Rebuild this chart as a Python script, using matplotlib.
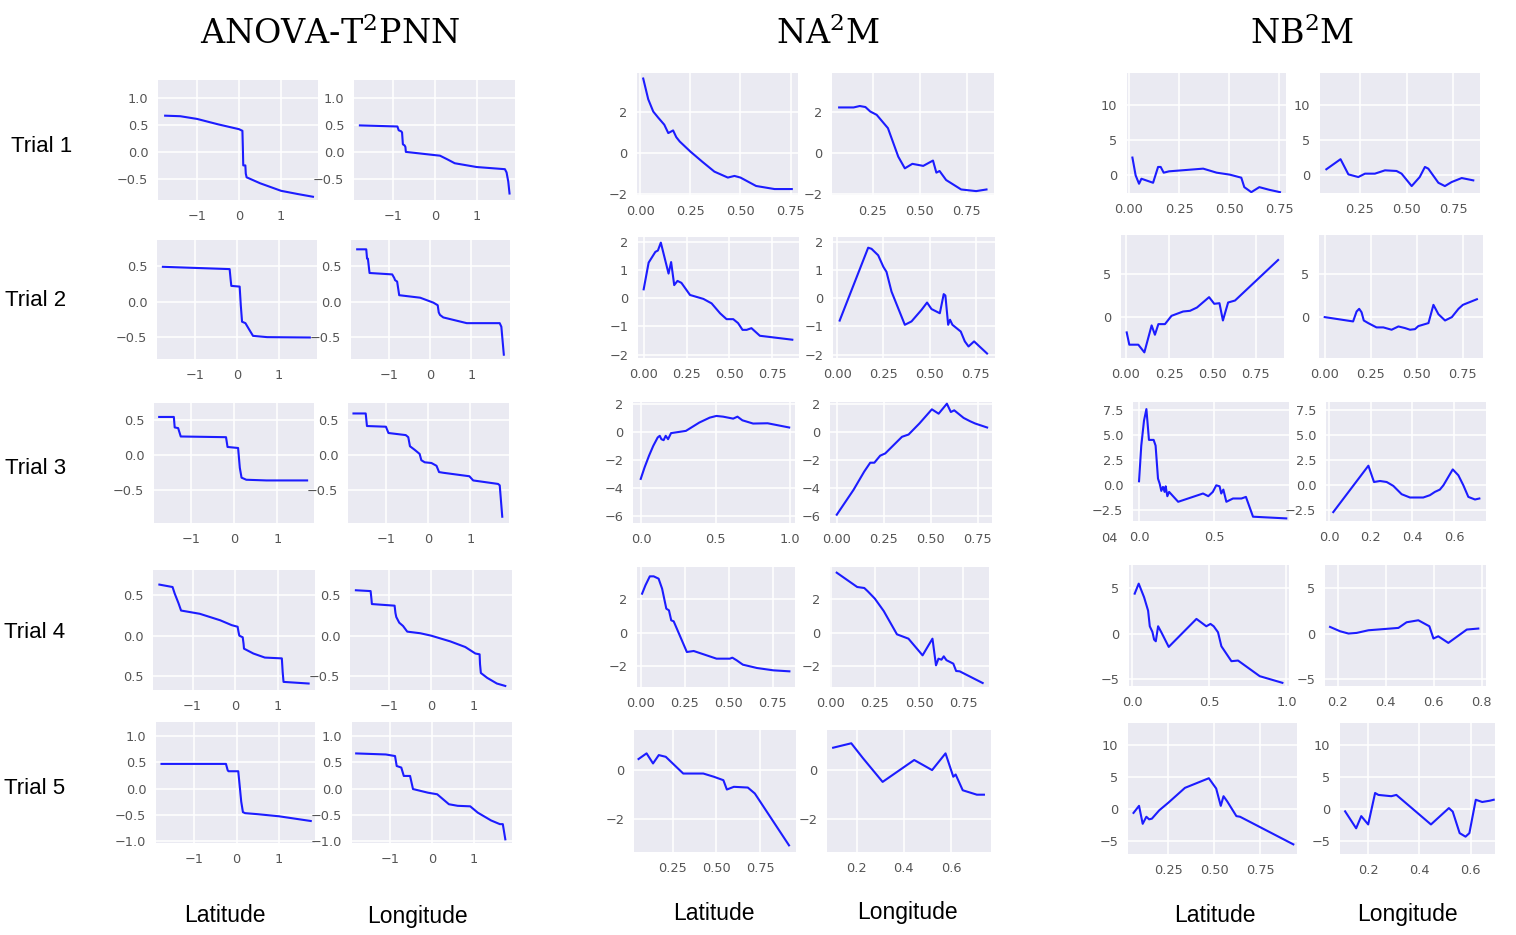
import matplotlib
matplotlib.use("Agg")
import matplotlib.pyplot as plt
from matplotlib.ticker import MultipleLocator, FixedLocator

plt.rcParams['mathtext.fontset'] = 'dejavuserif'

# ---- data ----
models = [r'ANOVA-T$^2$PNN', r'NA$^2$M', r'NB$^2$M']
features = ['Latitude', 'Longitude']
trials = ['Trial 1', 'Trial 2', 'Trial 3', 'Trial 4', 'Trial 5']

# trial 1
t1_a_lat_x = [-1.76, -1.4, -1.0, -0.5, 0.0, 0.08, 0.09, 0.10, 0.15, 0.16, 0.18, 0.5, 1.0, 1.4, 1.76]
t1_a_lat_y = [0.67, 0.66, 0.61, 0.51, 0.42, 0.39, 0.1, -0.25, -0.25, -0.4, -0.47, -0.58, -0.72, -0.78, -0.83]
t1_a_lon_x = [-1.78, -0.89, -0.86, -0.80, -0.78, -0.76, -0.72, -0.70, -0.69, 0.0, 0.12, 0.3, 0.47, 0.99, 1.66, 1.70, 1.74, 1.77]
t1_a_lon_y = [0.49, 0.47, 0.40, 0.38, 0.36, 0.14, 0.12, 0.09, 0.0, -0.06, -0.07, -0.14, -0.21, -0.28, -0.32, -0.38, -0.55, -0.77]
t1_n_lat_x = [0.015, 0.04, 0.065, 0.09, 0.12, 0.14, 0.155, 0.164, 0.18, 0.197, 0.25, 0.31, 0.37, 0.437, 0.47, 0.50, 0.578, 0.67, 0.756]
t1_n_lat_y = [3.61, 2.6, 2.0, 1.7, 1.36, 0.95, 1.03, 1.08, 0.75, 0.54, 0.05, -0.45, -0.93, -1.22, -1.14, -1.22, -1.63, -1.78, -1.78]
t1_n_lon_x = [0.07, 0.147, 0.18, 0.21, 0.236, 0.27, 0.33, 0.385, 0.42, 0.46, 0.518, 0.57, 0.588, 0.605, 0.64, 0.72, 0.80, 0.855]
t1_n_lon_y = [2.2, 2.2, 2.27, 2.22, 2.0, 1.84, 1.19, -0.2, -0.77, -0.55, -0.65, -0.39, -0.98, -0.9, -1.34, -1.8, -1.88, -1.8]
t1_b_lat_x = [0.017, 0.033, 0.05, 0.062, 0.12, 0.145, 0.158, 0.173, 0.2, 0.37, 0.437, 0.503, 0.56, 0.575, 0.61, 0.65, 0.70, 0.753]
t1_b_lat_y = [2.52, 0.0, -1.19, -0.48, -1.05, 1.19, 1.19, 0.38, 0.57, 0.95, 0.38, 0.1, -0.33, -1.67, -2.38, -1.67, -2.05, -2.38]
t1_b_lon_x = [0.07, 0.146, 0.188, 0.241, 0.277, 0.33, 0.384, 0.446, 0.473, 0.527, 0.57, 0.598, 0.616, 0.67, 0.705, 0.741, 0.795, 0.857]
t1_b_lon_y = [0.86, 2.29, 0.14, -0.24, 0.24, 0.24, 0.71, 0.62, 0.24, -1.52, -0.24, 1.19, 0.95, -1.05, -1.52, -0.95, -0.38, -0.71]

# trial 2
t2_a_lat_x = [-1.76, -0.175, -0.15, -0.135, 0.063, 0.09, 0.12, 0.2, 0.28, 0.38, 0.714, 1.73]
t2_a_lat_y = [0.486, 0.454, 0.3, 0.22, 0.21, -0.05, -0.28, -0.30, -0.38, -0.477, -0.495, -0.5]
t2_a_lon_x = [-1.77, -1.55, -1.53, -1.51, -1.49, -1.47, -0.92, -0.87, -0.85, -0.80, -0.75, -0.24, 0.08, 0.185, 0.21, 0.24, 0.32, 0.89, 1.69, 1.73, 1.79]
t2_a_lon_y = [0.73, 0.73, 0.6, 0.6, 0.5, 0.40, 0.38, 0.33, 0.30, 0.28, 0.09, 0.055, -0.014, -0.05, -0.15, -0.185, -0.22, -0.30, -0.30, -0.35, -0.74]
t2_n_lat_x = [0.0, 0.029, 0.068, 0.083, 0.10, 0.145, 0.16, 0.178, 0.197, 0.22, 0.27, 0.348, 0.396, 0.445, 0.483, 0.522, 0.55, 0.576, 0.60, 0.628, 0.677, 0.866]
t2_n_lat_y = [0.32, 1.27, 1.65, 1.7, 1.98, 0.88, 1.29, 0.47, 0.62, 0.55, 0.12, -0.02, -0.18, -0.53, -0.74, -0.74, -0.88, -1.12, -1.12, -1.06, -1.33, -1.47]
t2_n_lon_x = [0.014, 0.168, 0.186, 0.222, 0.25, 0.267, 0.294, 0.366, 0.402, 0.456, 0.486, 0.51, 0.555, 0.576, 0.585, 0.60, 0.61, 0.623, 0.668, 0.69, 0.71, 0.74, 0.81]
t2_n_lon_y = [-0.79, 1.8, 1.76, 1.53, 1.12, 0.94, 0.24, -0.94, -0.82, -0.41, -0.15, -0.38, -0.53, 0.15, 0.1, -0.94, -0.76, -0.94, -1.18, -1.53, -1.71, -1.53, -1.96]
t2_b_lat_x = [0.004, 0.019, 0.071, 0.106, 0.148, 0.167, 0.187, 0.225, 0.263, 0.33, 0.37, 0.41, 0.48, 0.51, 0.54, 0.56, 0.59, 0.63, 0.879]
t2_b_lat_y = [-1.73, -3.15, -3.15, -4.04, -0.92, -2.0, -0.77, -0.77, 0.19, 0.69, 0.77, 1.15, 2.35, 1.58, 1.65, -0.35, 1.73, 1.96, 6.65]
t2_b_lon_x = [0.0, 0.154, 0.173, 0.187, 0.20, 0.212, 0.236, 0.281, 0.318, 0.363, 0.40, 0.436, 0.463, 0.49, 0.508, 0.563, 0.59, 0.617, 0.653, 0.69, 0.726, 0.75, 0.826]
t2_b_lon_y = [0.04, -0.46, 0.69, 1.0, 0.6, -0.35, -0.65, -1.15, -1.15, -1.42, -1.04, -1.23, -1.42, -1.35, -1.0, -0.65, 1.46, 0.38, -0.35, 0.04, 1.0, 1.46, 2.11]

# trial 3
t3_a_lat_x = [-1.74, -1.40, -1.38, -1.30, -1.24, -0.19, -0.155, 0.09, 0.13, 0.17, 0.28, 0.75, 1.69]
t3_a_lat_y = [0.55, 0.55, 0.40, 0.39, 0.27, 0.26, 0.12, 0.105, -0.18, -0.32, -0.35, -0.36, -0.36]
t3_a_lon_x = [-1.77, -1.48, -1.45, -1.0, -0.94, -0.53, -0.47, -0.43, -0.32, -0.2, -0.16, -0.08, 0.08, 0.2, 0.26, 0.36, 0.98, 1.07, 1.66, 1.70, 1.76]
t3_a_lon_y = [0.60, 0.60, 0.42, 0.41, 0.32, 0.29, 0.26, 0.13, 0.08, 0.02, -0.07, -0.10, -0.11, -0.15, -0.24, -0.25, -0.30, -0.36, -0.41, -0.43, -0.88]
t3_n_lat_x = [-0.004, 0.022, 0.052, 0.08, 0.11, 0.124, 0.135, 0.15, 0.164, 0.18, 0.2, 0.30, 0.39, 0.46, 0.505, 0.55, 0.618, 0.647, 0.68, 0.752, 0.85, 0.995]
t3_n_lat_y = [-3.34, -2.52, -1.69, -1.0, -0.40, -0.28, -0.52, -0.59, -0.28, -0.52, -0.09, 0.07, 0.66, 1.01, 1.13, 1.08, 0.94, 1.08, 0.82, 0.59, 0.61, 0.31]
t3_n_lon_x = [0.0, 0.089, 0.146, 0.178, 0.2, 0.231, 0.258, 0.347, 0.382, 0.44, 0.506, 0.542, 0.586, 0.607, 0.625, 0.675, 0.71, 0.737, 0.80]
t3_n_lon_y = [-5.88, -4.12, -2.82, -2.19, -2.19, -1.69, -1.53, -0.35, -0.19, 0.6, 1.6, 1.29, 2.0, 1.41, 1.53, 0.99, 0.75, 0.59, 0.31]
t3_b_lat_x = [0.0, 0.015, 0.033, 0.049, 0.06, 0.066, 0.097, 0.11, 0.126, 0.137, 0.148, 0.159, 0.17, 0.177, 0.188, 0.2, 0.26, 0.425, 0.46, 0.49, 0.513, 0.535, 0.546, 0.56, 0.58, 0.624, 0.68, 0.71, 0.757, 0.978]
t3_b_lat_y = [0.33, 3.9, 6.39, 7.55, 5.56, 4.47, 4.47, 3.9, 0.6, 0.1, -0.63, -0.23, -0.73, -0.17, -1.16, -0.73, -1.72, -0.89, -1.16, -0.73, -0.07, -0.17, -0.89, -0.5, -1.72, -1.39, -1.39, -1.23, -3.21, -3.38]
t3_b_lon_x = [0.019, 0.188, 0.215, 0.244, 0.276, 0.308, 0.348, 0.388, 0.452, 0.484, 0.508, 0.532, 0.549, 0.594, 0.621, 0.645, 0.669, 0.701, 0.722]
t3_b_lon_y = [-2.75, 1.89, 0.26, 0.36, 0.26, -0.13, -0.96, -1.29, -1.29, -1.06, -0.73, -0.5, -0.07, 1.52, 0.93, -0.07, -1.23, -1.49, -1.39]

# trial 4
t4_a_lat_x = [-1.78, -1.47, -1.42, -1.33, -1.27, -0.83, -0.35, -0.08, 0.06, 0.08, 0.10, 0.18, 0.2, 0.21, 0.43, 0.7, 1.1, 1.12, 1.14, 1.73]
t4_a_lat_y = [0.63, 0.60, 0.52, 0.40, 0.31, 0.27, 0.19, 0.13, 0.11, 0.05, 0.0, -0.02, -0.1, -0.16, -0.22, -0.27, -0.28, -0.45, -0.57, -0.59]
t4_a_lon_x = [-1.79, -1.44, -1.42, -1.41, -0.87, -0.85, -0.83, -0.76, -0.67, -0.57, -0.26, 0.0, 0.45, 0.81, 1.05, 1.15, 1.16, 1.18, 1.33, 1.56, 1.76]
t4_a_lon_y = [0.56, 0.55, 0.45, 0.39, 0.37, 0.28, 0.23, 0.16, 0.12, 0.05, 0.03, 0.0, -0.07, -0.14, -0.22, -0.23, -0.35, -0.46, -0.52, -0.59, -0.62]
t4_n_lat_x = [0.006, 0.025, 0.05, 0.072, 0.1, 0.12, 0.144, 0.159, 0.172, 0.186, 0.261, 0.3, 0.43, 0.506, 0.52, 0.545, 0.58, 0.66, 0.754, 0.845]
t4_n_lat_y = [2.34, 2.84, 3.38, 3.38, 3.24, 2.64, 1.44, 1.34, 0.74, 0.68, -1.16, -1.1, -1.56, -1.56, -1.5, -1.66, -1.92, -2.12, -2.26, -2.32]
t4_n_lon_x = [0.034, 0.15, 0.19, 0.21, 0.25, 0.30, 0.375, 0.44, 0.52, 0.576, 0.596, 0.61, 0.627, 0.64, 0.655, 0.694, 0.71, 0.73, 0.86]
t4_n_lon_y = [3.6, 2.74, 2.68, 2.48, 2.04, 1.3, -0.1, -0.36, -1.36, -0.36, -1.96, -1.56, -1.62, -1.42, -1.65, -1.86, -2.3, -2.32, -3.02]
t4_b_lat_x = [0.015, 0.041, 0.076, 0.102, 0.113, 0.13, 0.141, 0.152, 0.167, 0.188, 0.236, 0.416, 0.48, 0.507, 0.528, 0.556, 0.578, 0.643, 0.686, 0.827, 0.974]
t4_b_lat_y = [4.43, 5.53, 4.03, 2.56, 0.84, 0.22, -0.62, -0.81, 0.84, 0.18, -1.43, 1.65, 0.84, 1.1, 0.84, 0.18, -1.36, -3.0, -2.93, -4.65, -5.38]
t4_b_lon_x = [0.168, 0.21, 0.245, 0.279, 0.328, 0.453, 0.487, 0.536, 0.582, 0.599, 0.619, 0.661, 0.738, 0.786]
t4_b_lon_y = [0.77, 0.29, 0.04, 0.11, 0.4, 0.66, 1.28, 1.5, 0.84, -0.51, -0.26, -0.99, 0.48, 0.59]

# trial 5
t5_a_lat_x = [-1.77, -0.25, -0.21, -0.19, 0.04, 0.08, 0.11, 0.15, 0.2, 0.5, 1.0, 1.75]
t5_a_lat_y = [0.47, 0.47, 0.35, 0.33, 0.33, 0.0, -0.25, -0.45, -0.47, -0.49, -0.53, -0.62]
t5_a_lon_x = [-1.81, -1.1, -0.88, -0.84, -0.73, -0.67, -0.52, -0.45, -0.09, 0.13, 0.41, 0.62, 0.92, 1.1, 1.42, 1.63, 1.7, 1.76]
t5_a_lon_y = [0.67, 0.65, 0.62, 0.43, 0.40, 0.24, 0.24, -0.01, -0.08, -0.11, -0.30, -0.33, -0.34, -0.46, -0.61, -0.68, -0.68, -0.97]
t5_n_lat_x = [0.054, 0.10, 0.137, 0.17, 0.21, 0.31, 0.425, 0.485, 0.54, 0.56, 0.60, 0.68, 0.72, 0.916]
t5_n_lat_y = [0.45, 0.68, 0.27, 0.61, 0.54, -0.14, -0.14, -0.27, -0.41, -0.79, -0.68, -0.71, -0.95, -3.06]
t5_n_lon_x = [0.10, 0.177, 0.227, 0.31, 0.444, 0.52, 0.577, 0.61, 0.62, 0.65, 0.71, 0.74]
t5_n_lon_y = [0.91, 1.09, 0.48, -0.48, 0.41, 0.0, 0.68, -0.27, -0.18, -0.82, -1.0, -1.0]
t5_b_lat_x = [0.06, 0.09, 0.11, 0.13, 0.145, 0.16, 0.2, 0.25, 0.34, 0.47, 0.51, 0.535, 0.55, 0.57, 0.62, 0.64, 0.93]
t5_b_lat_y = [-0.6, 0.5, -2.3, -1.2, -1.6, -1.5, -0.2, 1.0, 3.3, 4.8, 3.2, 0.5, 2.0, 1.2, -1.1, -1.2, -5.5]
t5_b_lon_x = [0.11, 0.153, 0.173, 0.2, 0.227, 0.24, 0.29, 0.31, 0.445, 0.515, 0.53, 0.557, 0.58, 0.595, 0.62, 0.645, 0.675, 0.69]
t5_b_lon_y = [-0.36, -3.0, -1.1, -2.4, 2.5, 2.2, 2.0, 2.2, -2.4, 0.15, -0.4, -3.75, -4.3, -3.75, 1.45, 1.1, 1.3, 1.45]

series = [
    [(t1_a_lat_x, t1_a_lat_y), (t1_a_lon_x, t1_a_lon_y), (t1_n_lat_x, t1_n_lat_y),
     (t1_n_lon_x, t1_n_lon_y), (t1_b_lat_x, t1_b_lat_y), (t1_b_lon_x, t1_b_lon_y)],
    [(t2_a_lat_x, t2_a_lat_y), (t2_a_lon_x, t2_a_lon_y), (t2_n_lat_x, t2_n_lat_y),
     (t2_n_lon_x, t2_n_lon_y), (t2_b_lat_x, t2_b_lat_y), (t2_b_lon_x, t2_b_lon_y)],
    [(t3_a_lat_x, t3_a_lat_y), (t3_a_lon_x, t3_a_lon_y), (t3_n_lat_x, t3_n_lat_y),
     (t3_n_lon_x, t3_n_lon_y), (t3_b_lat_x, t3_b_lat_y), (t3_b_lon_x, t3_b_lon_y)],
    [(t4_a_lat_x, t4_a_lat_y), (t4_a_lon_x, t4_a_lon_y), (t4_n_lat_x, t4_n_lat_y),
     (t4_n_lon_x, t4_n_lon_y), (t4_b_lat_x, t4_b_lat_y), (t4_b_lon_x, t4_b_lon_y)],
    [(t5_a_lat_x, t5_a_lat_y), (t5_a_lon_x, t5_a_lon_y), (t5_n_lat_x, t5_n_lat_y),
     (t5_n_lon_x, t5_n_lon_y), (t5_b_lat_x, t5_b_lat_y), (t5_b_lon_x, t5_b_lon_y)],
]

# ---- layout: axes boxes in pixels (left, top, right, bottom) ----
W, H = 1516, 935
boxes = [
    [(158, 80, 318, 200), (354, 80, 515, 200), (637, 73, 798, 195), (832, 73, 994, 195), (1127, 73, 1286, 193), (1320, 73, 1480, 193)],
    [(157, 240, 317, 359), (351, 240, 510, 359), (638, 237, 799, 358), (833, 237, 995, 358), (1121, 235, 1284, 358), (1319, 235, 1483, 358)],
    [(154, 403, 314, 523), (348, 403, 509, 523), (633, 402, 795, 523), (830, 402, 992, 523), (1133, 402, 1289, 521), (1326, 402, 1486, 521)],
    [(153, 570, 315, 690), (350, 570, 512, 690), (637, 567, 795, 687), (830, 567, 989, 687), (1129, 565, 1289, 686), (1325, 565, 1486, 686)],
    [(156, 722, 315, 843), (352, 722, 512, 843), (634, 730, 796, 852), (827, 730, 991, 852), (1128, 723, 1297, 854), (1340, 723, 1495, 854)],
]
xlims = [
    [(-1.93, 1.88), (-1.92, 1.90), (-0.016, 0.787), (0.032, 0.895), (-0.01, 0.783), (0.036, 0.893)],
    [(-1.90, 1.90), (-1.92, 1.94), (-0.033, 0.905), (-0.022, 0.853), (-0.029, 0.913), (-0.031, 0.859)],
    [(-1.86, 1.85), (-1.90, 1.92), (-0.056, 1.034), (-0.036, 0.826), (-0.04, 0.996), (-0.016, 0.754)],
    [(-1.93, 1.88), (-1.93, 1.92), (-0.023, 0.877), (-0.004, 0.896), (-0.022, 1.017), (0.147, 0.818)],
    [(-1.90, 1.85), (-1.91, 1.92), (0.028, 0.956), (0.074, 0.77), (0.03, 0.95), (0.09, 0.695)],
]
ylims = [
    [(-0.89, 1.33), (-0.89, 1.33), (-2.07, 3.88), (-2.07, 3.88), (-2.5, 14.5), (-2.5, 14.5)],
    [(-0.80, 0.86), (-0.80, 0.86), (-2.12, 2.18), (-2.12, 2.18), (-4.69, 9.54), (-4.69, 9.54)],
    [(-0.97, 0.75), (-0.97, 0.75), (-6.47, 2.12), (-6.47, 2.12), (-3.64, 8.26), (-3.64, 8.26)],
    [(-0.67, 0.81), (-0.67, 0.81), (-3.26, 3.94), (-3.26, 3.94), (-5.73, 7.58), (-5.73, 7.58)],
    [(-1.04, 1.27), (-1.04, 1.27), (-3.33, 1.63), (-3.33, 1.63), (-7.0, 13.4), (-7.0, 13.4)],
]
xsteps = [
    [1, 1, 0.25, 0.25, 0.25, 0.25],
    [1, 1, 0.25, 0.25, 0.25, 0.25],
    [1, 1, 0.5, 0.25, 0.5, 0.2],
    [1, 1, 0.25, 0.25, 0.5, 0.2],
    [1, 1, 0.25, 0.2, 0.25, 0.2],
]
# y ticks per row, one list per model
yticks = [
    [[-0.5, 0, 0.5, 1.0], [-2, 0, 2], [0, 5, 10]],
    [[-0.5, 0, 0.5], [-2, -1, 0, 1, 2], [0, 5]],
    [[-0.5, 0, 0.5], [-6, -4, -2, 0, 2], [-2.5, 0, 2.5, 5, 7.5]],
    [[-0.5, 0, 0.5], [-2, 0, 2], [-5, 0, 5]],
    [[-1.0, -0.5, 0, 0.5, 1.0], [-2, 0], [-5, 0, 5, 10]],
]

fig = plt.figure(figsize=(W / 100, H / 100), dpi=100)
fig.patch.set_facecolor('white')

for r in range(5):
    for c in range(6):
        l, t, rr, b = boxes[r][c]
        ax = fig.add_axes([l / W, 1 - b / H, (rr - l) / W, (b - t) / H])
        ax.set_facecolor('#EAEAF2')
        for s in ax.spines.values():
            s.set_visible(False)
        ax.grid(True, color='white', lw=1.1)
        ax.set_axisbelow(True)
        x, y = series[r][c]
        ax.plot(x, y, color='#1c1cff', lw=1.5)
        ax.set_xlim(*xlims[r][c])
        ax.set_ylim(*ylims[r][c])
        ax.xaxis.set_major_locator(MultipleLocator(xsteps[r][c]))
        ax.yaxis.set_major_locator(FixedLocator(yticks[r][c // 2]))
        ax.tick_params(length=0, labelsize=9.3, colors='#555555', pad=7)
        if r == 3 and c == 0:
            ax.set_yticks([-0.5, 0, 0.5])
            ax.set_yticklabels(['0.5', '0.0', '0.5'])

# stray tick fragment left of trial 3 NB2M panel
fig.text(1118 / W, 1 - 538 / H, '04', ha='right', va='center', fontsize=9.3, color='#555555')

# column titles
title_x = [330, 828, 1302]
for m, tx in zip(models, title_x):
    fig.text(tx / W, 1 - 34 / H, m, ha='center', va='center', fontsize=24,
             family='DejaVu Serif')

# row labels
trial_pos = [(11, 146), (5, 300), (5, 469), (4, 632), (4, 789)]
for name, (tx, ty) in zip(trials, trial_pos):
    fig.text(tx / W, 1 - ty / H, name, ha='left', va='center', fontsize=16,
             family='Liberation Sans')

# feature labels under each column pair
feat_pos = [(225, 916), (417, 916), (714, 913), (907, 913), (1215, 915), (1407, 915)]
for i, (fx, fy) in enumerate(feat_pos):
    fig.text(fx / W, 1 - fy / H, features[i % 2], ha='center', va='center', fontsize=16.5,
             family='Liberation Sans')

fig.savefig('out.png', dpi=100)
